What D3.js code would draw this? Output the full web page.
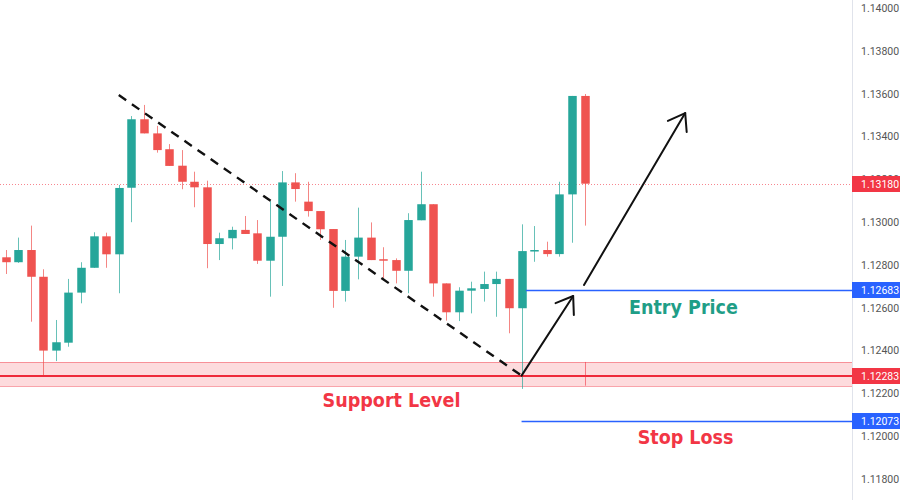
<!DOCTYPE html>
<html><head><meta charset="utf-8">
<script src="https://cdn.jsdelivr.net/npm/d3@7"></script>
<style>body{margin:0;background:#fff}svg{display:block}</style>
</head><body><svg id="c" width="900" height="500"></svg>
<script>
// ---- data ----
const opens  = [1.12836,1.12813,1.12870,1.12745,1.12400,1.12437,1.12671,1.12787,1.12934,1.12850,1.13161,1.13481,1.13415,1.13341,1.13264,1.13189,1.13163,1.12898,1.12925,1.12964,1.12948,1.12820,1.12932,1.13186,1.13096,1.13052,1.12968,1.12679,1.12839,1.12928,1.12827,1.12823,1.12773,1.13009,1.13084,1.12714,1.12579,1.12680,1.12688,1.12711,1.12735,1.12598,1.12864,1.12870,1.12851,1.13130,1.13590];
const highs  = [1.12870,1.12928,1.12984,1.12780,1.12543,1.12735,1.12813,1.12953,1.12951,1.13174,1.13496,1.13548,1.13450,1.13365,1.13337,1.13236,1.13194,1.12951,1.12979,1.13029,1.13010,1.13099,1.13239,1.13229,1.13189,1.13052,1.12968,1.12917,1.13068,1.12999,1.12883,1.12831,1.13042,1.13236,1.13084,1.12714,1.12696,1.12722,1.12769,1.12769,1.12735,1.12990,1.12982,1.12909,1.13189,1.13590,1.13599];
const lows   = [1.12758,1.12810,1.12535,1.12280,1.12351,1.12418,1.12621,1.12787,1.12787,1.12668,1.13000,1.13415,1.13325,1.13263,1.13154,1.13070,1.12785,1.12823,1.12873,1.12945,1.12805,1.12652,1.12702,1.13096,1.13026,1.12917,1.12600,1.12629,1.12733,1.12823,1.12738,1.12714,1.12668,1.13009,1.12652,1.12540,1.12538,1.12574,1.12629,1.12558,1.12481,1.12221,1.12815,1.12839,1.12839,1.12904,1.12984];
const closes = [1.12813,1.12870,1.12745,1.12400,1.12439,1.12671,1.12787,1.12934,1.12850,1.13160,1.13481,1.13415,1.13337,1.13263,1.13189,1.13163,1.12898,1.12925,1.12964,1.12945,1.12820,1.12932,1.13186,1.13155,1.13052,1.12967,1.12679,1.12839,1.12928,1.12823,1.12820,1.12773,1.13010,1.13084,1.12714,1.12579,1.12680,1.12691,1.12711,1.12735,1.12598,1.12865,1.12870,1.12851,1.13130,1.13590,1.13180];

const tickValues = [1.118,1.120,1.122,1.124,1.126,1.128,1.130,1.132,1.134,1.136,1.138,1.140];
const levelValues = [1.13180, 1.12683, 1.12283, 1.12073];   // last, entry, support, stop
const levelLabels = ["1.13180","1.12683","1.12283","1.12073"];
const supportZone = [1.12236, 1.12347];
// annotation anchors: [candle index, price]
const trendLine = [[9.0, 1.13594],[41.0, 1.12283]];
const arrowUp1  = [[41.0, 1.12283],[45.1, 1.12655]];
const arrowUp2  = [[45.96, 1.12707],[54.0, 1.13510]];
const entryStart = 41.35, stopStart = 41.0, zoneMark = 46.0;
const annotationTexts = ["Entry Price","Support Level","Stop Loss"];
const annotationAnchors = [[53.86, 1.12600],[30.67, 1.12169],[54.03, 1.11992]];

// ---- chart ----
const W = 900, H = 500, axisX = 852;
const svg = d3.select("#c");
const x = d3.scaleLinear().domain([0, 46]).range([5.5, 584.5]);
const y = d3.scaleLinear().domain([1.118, 1.140]).range([479, 8.2]);
const UP = "#26a69a", DN = "#ef5350", BLUE = "#2962ff", RED = "#f23645";
const crisp = v => Math.round(v) + 0.5;

// support zone
const zone = svg.append("g");
zone.append("rect").attr("x", 0).attr("width", axisX)
  .attr("y", Math.round(y(supportZone[1]))).attr("height", Math.round(y(supportZone[0])) - Math.round(y(supportZone[1])))
  .attr("fill", "#f23645").attr("fill-opacity", 0.18);
supportZone.forEach(v => zone.append("line").attr("x1", 0).attr("x2", axisX)
  .attr("y1", crisp(y(v))).attr("y2", crisp(y(v))).attr("stroke", RED).attr("stroke-opacity", 0.45).attr("stroke-width", 1));
zone.append("line").attr("x1", crisp(x(zoneMark))).attr("x2", crisp(x(zoneMark)))
  .attr("y1", y(supportZone[1])).attr("y2", y(supportZone[0])).attr("stroke", RED).attr("stroke-opacity", 0.6);

// last price dotted line
svg.append("line").attr("x1", 0).attr("x2", axisX).attr("y1", crisp(y(levelValues[0]))).attr("y2", crisp(y(levelValues[0])))
  .attr("stroke", RED).attr("stroke-opacity", 0.6).attr("stroke-dasharray", "1,2");

// candles
const idx = d3.range(opens.length);
const bw = 8.5;
const cg = svg.append("g");
cg.selectAll("line.w").data(idx).join("line")
  .attr("x1", i => crisp(x(i))).attr("x2", i => crisp(x(i)))
  .attr("y1", i => y(highs[i])).attr("y2", i => y(lows[i]))
  .attr("stroke", i => closes[i] >= opens[i] ? UP : DN).attr("stroke-opacity", 0.7).attr("stroke-width", 1);
cg.selectAll("rect.b").data(idx).join("rect")
  .attr("x", i => crisp(x(i)) - bw / 2).attr("width", bw)
  .attr("y", i => y(Math.max(opens[i], closes[i])))
  .attr("height", i => Math.max(1.5, Math.abs(y(opens[i]) - y(closes[i]))))
  .attr("fill", i => closes[i] >= opens[i] ? UP : DN);

// support line (solid)
svg.append("line").attr("x1", 0).attr("x2", axisX).attr("y1", Math.round(y(levelValues[2]))).attr("y2", Math.round(y(levelValues[2])))
  .attr("stroke", "#ee2a3a").attr("stroke-width", 2);

// entry and stop lines
svg.append("line").attr("x1", x(entryStart)).attr("x2", axisX).attr("y1", crisp(y(levelValues[1]))).attr("y2", crisp(y(levelValues[1])))
  .attr("stroke", BLUE).attr("stroke-width", 1.3);
svg.append("line").attr("x1", x(stopStart)).attr("x2", axisX).attr("y1", crisp(y(levelValues[3]))).attr("y2", crisp(y(levelValues[3])))
  .attr("stroke", BLUE).attr("stroke-width", 1.3);

// trend line
svg.append("line").attr("x1", x(trendLine[0][0])).attr("y1", y(trendLine[0][1]))
  .attr("x2", x(trendLine[1][0])).attr("y2", y(trendLine[1][1]))
  .attr("stroke", "#111").attr("stroke-width", 2.4).attr("stroke-dasharray", "9,7");

// arrows
function arrow(pts) {
  const x1 = x(pts[0][0]), y1 = y(pts[0][1]), x2 = x(pts[1][0]), y2 = y(pts[1][1]);
  const ang = Math.atan2(y1 - y2, x1 - x2), L = 19, a = 35 * Math.PI / 180;
  const g = svg.append("g").attr("fill", "none").attr("stroke", "#111").attr("stroke-width", 2)
    .attr("stroke-linecap", "round").attr("stroke-linejoin", "round");
  g.append("line").attr("x1", x1).attr("y1", y1).attr("x2", x2).attr("y2", y2);
  g.append("polyline").attr("points", [
    [x2 + L * Math.cos(ang + a), y2 + L * Math.sin(ang + a)], [x2, y2],
    [x2 + L * Math.cos(ang - a), y2 + L * Math.sin(ang - a)]].map(p => p.join(",")).join(" "));
}
arrow(arrowUp1); arrow(arrowUp2);

// annotation text
const textColors = ["#1f9e87", RED, RED];
svg.append("g").selectAll("text").data(annotationTexts).join("text")
  .attr("x", (d, i) => x(annotationAnchors[i][0])).attr("y", (d, i) => y(annotationAnchors[i][1]))
  .attr("text-anchor", "middle").attr("dominant-baseline", "central")
  .attr("font-family", "'DejaVu Sans Condensed','DejaVu Sans',sans-serif").attr("font-weight", "bold")
  .attr("font-size", 19.5).attr("fill", (d, i) => textColors[i]).text(d => d);

// right axis
svg.append("rect").attr("x", axisX).attr("y", 0).attr("width", W - axisX).attr("height", H).attr("fill", "#fff");
svg.append("line").attr("x1", axisX + 0.5).attr("x2", axisX + 0.5).attr("y1", 0).attr("y2", H).attr("stroke", "#e0e3eb");
const axis = d3.axisRight(y).tickValues(tickValues).tickFormat(d3.format(".5f")).tickSize(0).tickPadding(9);
const ag = svg.append("g").attr("transform", `translate(${axisX},0)`).call(axis);
ag.select(".domain").remove();
ag.selectAll("text").attr("font-family", "Roboto, sans-serif").attr("font-size", 10.5).attr("fill", "#555");

// price badges
const badgeColors = [RED, BLUE, RED, BLUE];
const bg = svg.append("g").selectAll("g").data(levelValues).join("g")
  .attr("transform", d => `translate(${axisX},${Math.round(y(d))})`);
bg.append("rect").attr("x", 0).attr("y", -8).attr("width", W - axisX).attr("height", 16)
  .attr("fill", (d, i) => badgeColors[i]);
bg.append("text").attr("x", 9).attr("dy", "0.35em").attr("font-family", "Roboto, sans-serif")
  .attr("font-size", 10.5).attr("fill", "#fff").text((d, i) => levelLabels[i]);
</script></body></html>
